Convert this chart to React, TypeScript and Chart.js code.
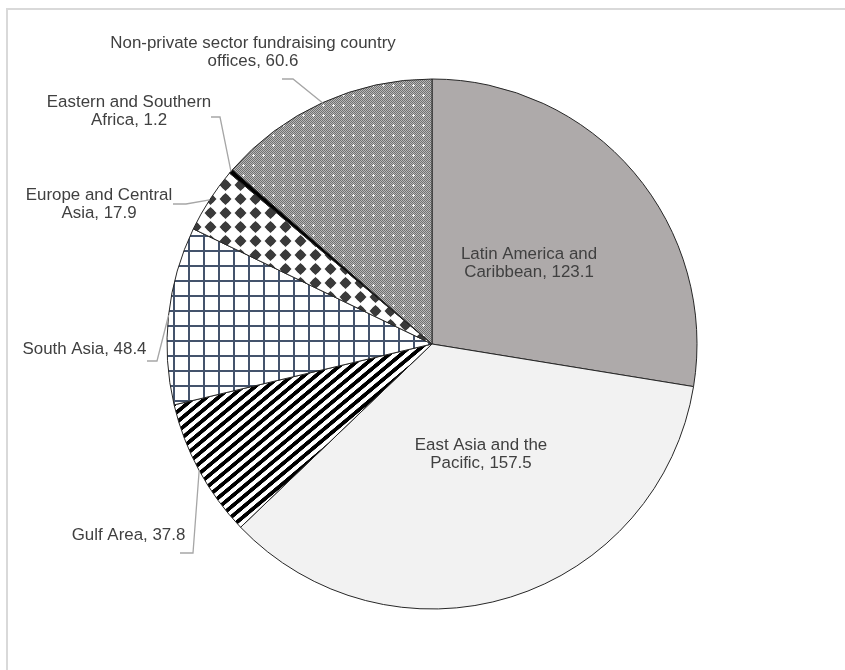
import React, { useEffect, useRef } from "react";
import { Chart, ArcElement, PieController } from "chart.js";

Chart.register(ArcElement, PieController);

// ---- data ----
const categories = [
  "Latin America and Caribbean",
  "East Asia and the Pacific",
  "Gulf Area",
  "South Asia",
  "Europe and Central Asia",
  "Eastern and Southern Africa",
  "Non-private sector fundraising country offices",
];
const values = [123.1, 157.5, 37.8, 48.4, 17.9, 1.2, 60.6];
// number of words of the label that go on the first line
const firstLineWords = [3, 4, 99, 99, 3, 3, 4];

// ---- layout (offsets from pie centre, px) ----
type Lay = { dx: number; dy: number; sx?: number; sy?: number; ex?: number };
const labelLayout: Lay[] = [
  { dx: 97, dy: -90 },
  { dx: 49, dy: 101 },
  { dx: -303.5, dy: 191, sx: -252, sy: 209, ex: -239 },
  { dx: -347.5, dy: 5, sx: -285, sy: 17, ex: -275 },
  { dx: -333, dy: -149, sx: -259, sy: -140, ex: -246 },
  { dx: -303, dy: -242, sx: -221, sy: -227, ex: -212 },
  { dx: -179, dy: -301, sx: -150, sy: -265, ex: -139 },
];

const FONT = '16.9px "Liberation Sans", Arial, sans-serif';
const LINE_H = 18.6;

function makeTile(w: number, h: number, draw: (c: CanvasRenderingContext2D) => void) {
  const cv = document.createElement("canvas");
  cv.width = w;
  cv.height = h;
  const c = cv.getContext("2d")!;
  draw(c);
  return cv;
}

function buildFills(ctx: CanvasRenderingContext2D) {
  // Gulf: diagonal black stripes
  const stripeTile = makeTile(16, 16, (c) => {
    c.fillStyle = "#fff";
    c.fillRect(0, 0, 16, 16);
    c.fillStyle = "#000";
    c.fillRect(0, 0, 16, 8);
  });
  const stripes = ctx.createPattern(stripeTile, "repeat")!;
  stripes.setTransform(new DOMMatrix().rotate(-40).scale(0.48));

  // South Asia: blue-grey grid
  const gridTile = makeTile(15, 15, (c) => {
    c.fillStyle = "#fff";
    c.fillRect(0, 0, 15, 15);
    c.fillStyle = "#44536c";
    c.fillRect(0, 0, 2, 15);
    c.fillRect(0, 0, 15, 2);
  });
  const grid = ctx.createPattern(gridTile, "repeat")!;

  // Europe: dark rounded diamonds
  const dotTile = makeTile(15, 14, (c) => {
    c.fillStyle = "#fff";
    c.fillRect(0, 0, 15, 14);
    c.fillStyle = "#3a3a3a";
    const cx = 7.5, cy = 7;
    c.beginPath();
    c.arc(cx, cy, 4.4, 0, Math.PI * 2);
    c.fill();
    c.beginPath();
    c.moveTo(cx, cy - 6);
    c.lineTo(cx + 6, cy);
    c.lineTo(cx, cy + 6);
    c.lineTo(cx - 6, cy);
    c.closePath();
    c.fill();
  });
  const dots = ctx.createPattern(dotTile, "repeat")!;

  // Non-private: fine grey texture
  const fineTile = makeTile(10, 10, (c) => {
    const img = c.createImageData(10, 10);
    for (let y = 0; y < 10; y++) {
      for (let x = 0; x < 10; x++) {
        let v = (x + y) % 2 === 0 ? 112 : 182;
        if ((x === 5 && y >= 4 && y <= 6) || (y === 5 && x >= 4 && x <= 6)) v = 240;
        const i = (y * 10 + x) * 4;
        img.data[i] = v;
        img.data[i + 1] = v;
        img.data[i + 2] = v;
        img.data[i + 3] = 255;
      }
    }
    c.putImageData(img, 0, 0);
  });
  const fine = ctx.createPattern(fineTile, "repeat")!;

  return ["#aeaaaa", "#f2f2f2", stripes, grid, dots, "#000000", fine];
}

function labelText(i: number): string[] {
  const words = `${categories[i]}, ${values[i].toFixed(1)}`.split(" ");
  const n = firstLineWords[i];
  if (n >= words.length) return [words.join(" ")];
  return [words.slice(0, n).join(" "), words.slice(n).join(" ")];
}

const labelPlugin = {
  id: "sliceLabels",
  afterDatasetsDraw(chart: any) {
    const ctx: CanvasRenderingContext2D = chart.ctx;
    const meta = chart.getDatasetMeta(0);
    ctx.save();
    meta.data.forEach((arc: any, i: number) => {
      const { x, y, startAngle, endAngle, outerRadius } = arc.getProps(
        ["x", "y", "startAngle", "endAngle", "outerRadius"],
        true
      );
      const L = labelLayout[i];
      if (L.sx !== undefined) {
        const mid = (startAngle + endAngle) / 2;
        const px = x + Math.cos(mid) * outerRadius;
        const py = y + Math.sin(mid) * outerRadius;
        ctx.strokeStyle = "#a6a6a6";
        ctx.lineWidth = 1.3;
        ctx.beginPath();
        ctx.moveTo(x + L.sx, y + L.sy!);
        ctx.lineTo(x + L.ex!, y + L.sy!);
        ctx.lineTo(px, py);
        ctx.stroke();
      }
      const lines = labelText(i);
      ctx.font = FONT;
      ctx.fillStyle = "#404040";
      ctx.textAlign = "center";
      ctx.textBaseline = "middle";
      lines.forEach((t, k) => {
        ctx.fillText(t, x + L.dx, y + L.dy + k * LINE_H);
      });
    });
    ctx.restore();
  },
};

export default function App() {
  const ref = useRef<HTMLCanvasElement | null>(null);
  useEffect(() => {
    const canvas = ref.current!;
    const ctx = canvas.getContext("2d")!;
    const fills = buildFills(ctx);
    const chart = new Chart(canvas, {
      type: "pie",
      data: {
        labels: categories,
        datasets: [
          {
            data: values,
            backgroundColor: fills as any,
            borderColor: "#262626",
            borderWidth: 1,
            hoverOffset: 0,
          },
        ],
      },
      options: {
        animation: false,
        responsive: true,
        maintainAspectRatio: false,
        radius: 265,
        layout: { padding: { left: 11, top: 8, right: 0, bottom: 0 } },
        plugins: { legend: { display: false }, tooltip: { enabled: false } },
        events: [],
      } as any,
      plugins: [labelPlugin],
    });
    return () => chart.destroy();
  }, []);

  return (
    <div
      style={{
        position: "absolute",
        left: 6,
        top: 8,
        width: 839,
        height: 662,
        boxSizing: "border-box",
        borderTop: "2px solid #d9d9d9",
        borderLeft: "2px solid #d9d9d9",
        background: "#fff",
      }}
    >
      <div style={{ position: "relative", width: 837, height: 660 }}>
        <canvas ref={ref} />
      </div>
    </div>
  );
}
